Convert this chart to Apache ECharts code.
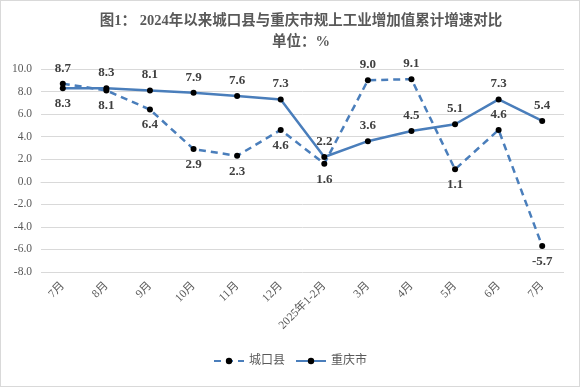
<!DOCTYPE html>
<html><head><meta charset="utf-8">
<script src="https://cdn.jsdelivr.net/npm/echarts@6/dist/echarts.min.js"></script>
<style>html,body{margin:0;padding:0;background:#fff}#c{width:580px;height:387px;box-sizing:border-box;border:1px solid #d9d9d9}</style>
</head><body><div id="c"></div>
<script>
const categories = ['7月','8月','9月','10月','11月','12月','2025年1-2月','3月','4月','5月','6月','7月'];
const chengkou = [8.7, 8.1, 6.4, 2.9, 2.3, 4.6, 1.6, 9.0, 9.1, 1.1, 4.6, -5.7];
const chongqing = [8.3, 8.3, 8.1, 7.9, 7.6, 7.3, 2.2, 3.6, 4.5, 5.1, 7.3, 5.4];
const yTicks = {min: -8, max: 10, interval: 2};

const FONT = '"Liberation Serif","Noto Sans CJK SC",serif';
const BLUE = '#4A7EBB';
// label placements
const ckPos = ['top','bottom','bottom','bottom','bottom','bottom','bottom','top','top','bottom','top','bottom'];
const cqPos = ['bottom','top','top','top','top','top','top','top','top','top','top','top'];
const mk = (vals, pos) => vals.map((v,i)=>({value:v,label:{position:pos[i]}}));

const chart = echarts.init(document.getElementById('c'));
chart.setOption({
  animation:false,
  title:[
    {text:'图1： 2024年以来城口县与重庆市规上工业增加值累计增速对比',left:295,top:8,textAlign:'center',
     textStyle:{fontFamily:FONT,fontSize:14.5,fontWeight:'bold',color:'#595959'}},
    {text:'单位：%',left:295,top:29,textAlign:'center',
     textStyle:{fontFamily:FONT,fontSize:14.5,fontWeight:'bold',color:'#595959'}}
  ],
  legend:{bottom:14,left:'center',itemWidth:30,itemHeight:8,itemGap:10,
    textStyle:{fontFamily:FONT,fontSize:12,color:'#595959'},data:['城口县','重庆市']},
  grid:{left:40,right:15,top:68,bottom:114,containLabel:false},
  xAxis:{type:'category',data:categories,boundaryGap:true,
    axisLine:{show:true,lineStyle:{color:'#d9d9d9'}},axisTick:{show:false},
    axisLabel:{rotate:45,margin:12,fontFamily:FONT,fontSize:11.5,color:'#595959',interval:0}},
  yAxis:{type:'value',min:yTicks.min,max:yTicks.max,interval:yTicks.interval,
    axisLine:{show:false},axisTick:{show:false},
    splitLine:{lineStyle:{color:'#d9d9d9'}},
    axisLabel:{formatter:v=>v.toFixed(1),fontFamily:FONT,fontSize:11.5,color:'#595959',margin:9}},
  series:[
    {name:'城口县',type:'line',data:mk(chengkou,ckPos),symbol:'circle',symbolSize:6,
     lineStyle:{color:BLUE,width:2.5,type:[7,5]},itemStyle:{color:'#000'},
     label:{show:true,formatter:p=>p.value.toFixed(1),fontFamily:FONT,fontSize:13,fontWeight:'bold',color:'#404040',distance:6}},
    {name:'重庆市',type:'line',data:mk(chongqing,cqPos),symbol:'circle',symbolSize:6,
     lineStyle:{color:BLUE,width:2.5},itemStyle:{color:'#000'},
     label:{show:true,formatter:p=>p.value.toFixed(1),fontFamily:FONT,fontSize:13,fontWeight:'bold',color:'#404040',distance:6}}
  ]
});
</script></body></html>
